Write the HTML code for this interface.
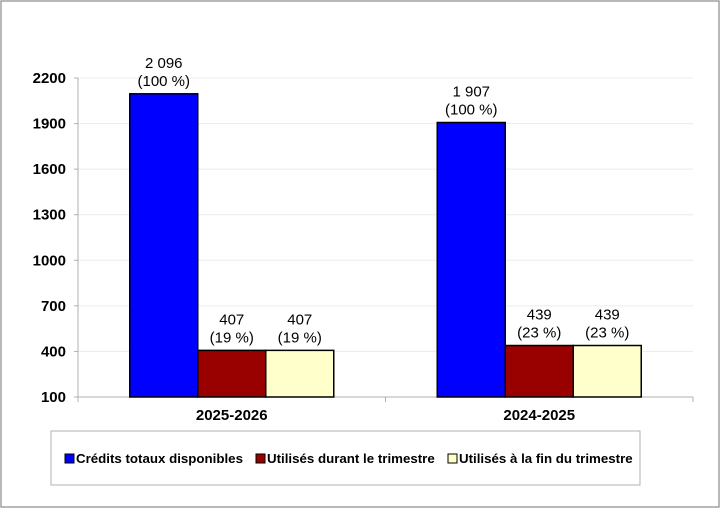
<!DOCTYPE html>
<html><head><meta charset="utf-8"><style>
body{margin:0;background:#fff;font-family:"Liberation Sans",Arial,sans-serif}
svg text{font-family:"Liberation Sans",Arial,sans-serif}
</style></head><body>
<svg id="c" width="721" height="509" xmlns="http://www.w3.org/2000/svg">
<rect x="1" y="1" width="718" height="506" fill="#fff" stroke="#a0a0a0" stroke-width="1.5"/>
<g id="grid"></g><g id="bars"></g><g id="labels"></g>
<rect x="51" y="431" width="589" height="54" fill="#fff" stroke="#b0b0b0"/>
<g>
<rect x="65" y="454" width="9" height="9" fill="#0000ff" stroke="#000"/>
<text x="76" y="463" font-size="13.3" font-weight="bold">Crédits totaux disponibles</text></g>
<g>
<rect x="256" y="454" width="9" height="9" fill="#990000" stroke="#000"/>
<text x="267" y="463" font-size="13.3" font-weight="bold">Utilisés durant le trimestre</text></g>
<g>
<rect x="448" y="454" width="9" height="9" fill="#ffffcc" stroke="#000"/>
<text x="459" y="463" font-size="13.3" font-weight="bold">Utilisés à la fin du trimestre</text></g>
</svg>
<script>
const categories=["2025-2026","2024-2025"];
const credits=[2096,1907];
const durant=[407,439];
const fin=[407,439];
const pctCredits=["100 %","100 %"];
const pctDurant=["19 %","23 %"];
const pctFin=["19 %","23 %"];
const valueText=[["2 096","407","407"],["1 907","439","439"]];
const ticks=[100,400,700,1000,1300,1600,1900,2200];
const NS="http://www.w3.org/2000/svg";
const X0=78,X1=693,Y0=397,Y1=78;
const y=v=>Y0-(v-100)/(2200-100)*(Y0-Y1);
const cw=(X1-X0)/categories.length,bw=68;
function mk(t,a,p){const e=document.createElementNS(NS,t);for(const k in a)e.setAttribute(k,a[k]);p.appendChild(e);return e;}
const g=document.getElementById('grid'),b=document.getElementById('bars'),L=document.getElementById('labels');
ticks.forEach(t=>{
 const ln=mk('line',{x1:X0,x2:X1,y1:y(t),y2:y(t),stroke:t==100?'#b0b0b0':'#ececec'},g);
 
 
 mk('line',{x1:X0-4,x2:X0,y1:y(t),y2:y(t),stroke:'#b0b0b0'},g);
 const tx=mk('text',{x:66,y:y(t)+5,'text-anchor':'end','font-size':15,'font-weight':'bold'},g);
 tx.textContent=t;
 
 
});
mk('line',{x1:X0,x2:X0,y1:Y1,y2:Y0+4,stroke:'#b0b0b0'},g);
for(let i=0;i<=categories.length;i++)mk('line',{x1:X0+i*cw,x2:X0+i*cw,y1:Y0,y2:Y0+5,stroke:'#b0b0b0'},g);
const series=[[credits,'#0000ff',pctCredits],[durant,'#990000',pctDurant],[fin,'#ffffcc',pctFin]];
categories.forEach((c,i)=>{
 const start=X0+i*cw+(cw-3*bw)/2;
 series.forEach((s,j)=>{
  const v=s[0][i],x=start+j*bw;
  const r=mk('rect',{x:x,y:y(v),width:bw,height:Y0-y(v),fill:s[1],stroke:'#000','stroke-width':1.5},b);
  
  
  const t1=mk('text',{x:x+bw/2,y:y(v)-26,'text-anchor':'middle','font-size':15},L);
  t1.textContent=valueText[i][j];
  
  
  const t2=mk('text',{x:x+bw/2,y:y(v)-8,'text-anchor':'middle','font-size':15},L);
  t2.textContent='('+s[2][i]+')';
  
  
 });
 const ct=mk('text',{x:X0+i*cw+cw/2,y:Y0+23,'text-anchor':'middle','font-size':15,'font-weight':'bold'},L);
 ct.textContent=c;
 
 
});
</script>
</body></html>
